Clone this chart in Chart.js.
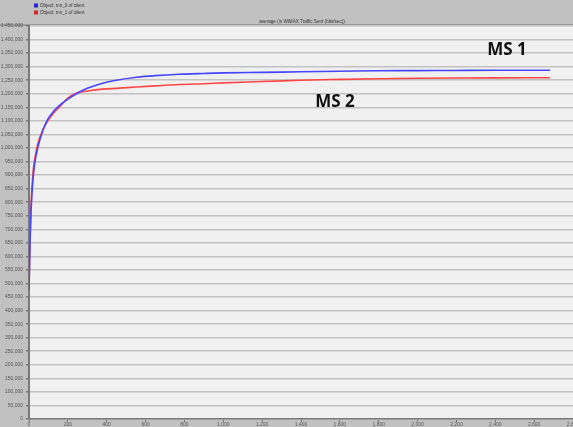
<!DOCTYPE html>
<html>
<head>
<meta charset="utf-8">
<script src="https://cdn.jsdelivr.net/npm/chart.js@4/dist/chart.umd.min.js"></script>
<style>
  html, body { margin: 0; padding: 0; overflow: hidden; background: #c3c3c3; }
  #wrap { width: 573px; height: 427px; overflow: hidden; position: relative; }
  #chart { position: absolute; left: -8px; top: 0; }
</style>
</head>
<body>
<div id="wrap"><canvas id="chart" width="581" height="427"></canvas></div>
<script>
// time axis (sec) shared by both series
var timeX = [0, 5, 10, 20, 30, 46, 70, 97, 130, 159, 200, 246, 300, 379, 450, 554, 650, 774, 900, 1000, 1200, 1400, 1600, 1800, 2000, 2200, 2400, 2682];
// MS 1 (Object: mn_0 of client)
var ms1Vals = [475000, 640000, 760000, 880000, 945000, 1003000, 1062000, 1106000, 1138000, 1158000, 1180000, 1201000, 1220000, 1239000, 1250000, 1261000, 1267000, 1272000, 1275000, 1277000, 1279000, 1281000, 1283000, 1285000, 1285500, 1286000, 1286500, 1287000];
// MS 2 (Object: mn_1 of client)
var ms2Vals = [475000, 655000, 780000, 905000, 962000, 1018000, 1065000, 1100000, 1132000, 1153000, 1184000, 1203000, 1210000, 1217000, 1220000, 1225000, 1229000, 1234000, 1237000, 1240000, 1245000, 1250000, 1253000, 1255500, 1257000, 1258000, 1258500, 1259000];
var seriesNames = ['Object: mn_0 of client', 'Object: mn_1 of client'];
var chartTitle = 'average (in WiMAX.Traffic Sent (bits/sec))';

function toPoints(xs, ys) {
    return xs.map(function(x, i) { return { x: x, y: ys[i] }; });
}

var frame = {
    id: 'frame',
    beforeDraw: function(chart) {
        var ctx = chart.ctx, a = chart.chartArea;
        ctx.save();
        ctx.fillStyle = '#c1c1c1';
        ctx.fillRect(0, 0, chart.width, chart.height);
        ctx.fillStyle = '#f0f0f0';
        ctx.fillRect(a.left, a.top, a.right - a.left, a.bottom - a.top);
        ctx.fillStyle = '#9a9a9a';
        ctx.fillRect(0, 24, chart.width, 2);
        ctx.restore();
    },
    afterDraw: function(chart) {
        var ctx = chart.ctx;
        var x = chart.scales.x, y = chart.scales.y;
        ctx.save();
        // legend
        var colors = ['#2626c8', '#d02a2a'];
        ctx.font = '4.6px "Liberation Sans"';
        ctx.textBaseline = 'middle';
        for (var i = 0; i < seriesNames.length; i++) {
            var ly = 5.5 + i * 7;
            ctx.fillStyle = colors[i];
            ctx.fillRect(42, ly - 2, 4, 4);
            ctx.fillStyle = '#333';
            ctx.fillText(seriesNames[i], 48, ly);
        }
        // title
        ctx.textAlign = 'center';
        ctx.fillStyle = '#333';
        ctx.fillText(chartTitle, 310, 21.5);
        // series annotations
        ctx.textAlign = 'left';
        ctx.fillStyle = '#111';
        ctx.font = 'bold 17px "Open Sans"';
        ctx.fillText('MS 1', x.getPixelForValue(2358), y.getPixelForValue(1361000));
        ctx.fillText('MS 2', x.getPixelForValue(1473), y.getPixelForValue(1168000));
        ctx.restore();
    }
};

new Chart(document.getElementById('chart'), {
    type: 'line',
    data: {
        datasets: [{
            label: seriesNames[0],
            data: toPoints(timeX, ms1Vals),
            borderColor: '#4646ff',
            borderWidth: 1.6,
            pointRadius: 0,
            cubicInterpolationMode: 'monotone'
        }, {
            label: seriesNames[1],
            data: toPoints(timeX, ms2Vals),
            borderColor: '#ff4646',
            borderWidth: 1.6,
            pointRadius: 0,
            cubicInterpolationMode: 'monotone'
        }]
    },
    options: {
        responsive: false,
        animation: false,
        layout: { padding: { top: 26, right: 0, bottom: 0, left: 0 } },
        plugins: {
            legend: { display: false },
            title: { display: false },
            tooltip: { enabled: false }
        },
        scales: {
            x: {
                type: 'linear',
                min: 0,
                max: 2800,
                ticks: {
                    stepSize: 200,
                    autoSkip: false,
                    maxRotation: 0,
                    padding: 0,
                    color: '#555',
                    font: { family: 'Liberation Sans', size: 5 }
                },
                grid: { drawOnChartArea: false, tickLength: 3, tickColor: '#777' },
                border: { color: '#7a7a7a', width: 1.5 },
                afterFit: function(s) { s.height = 8; s.paddingLeft = 0; s.paddingRight = 0; }
            },
            y: {
                min: 0,
                max: 1450000,
                ticks: {
                    stepSize: 50000,
                    padding: 3,
                    color: '#555',
                    font: { family: 'Liberation Sans', size: 5 }
                },
                grid: { color: '#c2c2c2', lineWidth: 1.5, tickLength: 3, tickColor: '#777' },
                border: { color: '#7a7a7a', width: 2 },
                afterFit: function(s) { s.width = 37; s.paddingTop = 0; s.paddingBottom = 0; }
            }
        }
    },
    plugins: [frame]
});
</script>
</body>
</html>
